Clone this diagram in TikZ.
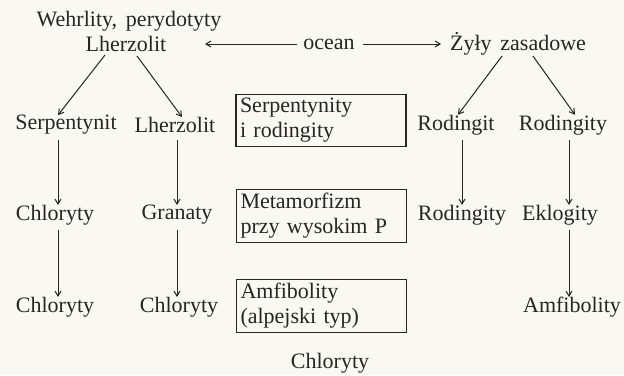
\documentclass[tikz,border=0pt]{standalone}
\usepackage{fontspec}
\setmainfont[WordSpace=1.6]{Liberation Serif}
\usetikzlibrary{arrows.meta}
\definecolor{paper}{RGB}{250,248,242}
\definecolor{ink}{RGB}{40,38,36}
\begin{document}
\begin{tikzpicture}[x=1pt,y=-1pt,
  every node/.style={font=\fontsize{22}{25}\selectfont, inner sep=0pt, text=ink},
  lbl/.style={anchor=center},
  boxed/.style={draw=ink, line width=1.3pt, minimum width=170pt, minimum height=51pt, text width=162pt, align=left, inner sep=4pt},
  arr/.style={draw=ink, line width=1pt, -{Straight Barb[length=5pt,width=6pt]}}]
\useasboundingbox[fill=paper] (0,0) rectangle (624,375);
% top
\node[lbl] (weh) at (129,21) {Wehrlity, perydotyty};
\node[lbl] (lh) at (126,44) {Lherzolit};
\node[lbl] (oc) at (329,44) {ocean};
\node[lbl] (zy) at (518,44) {Żyły zasadowe};
% row 2
\node[lbl] (s1) at (66,125) {Serpentynit};
\node[lbl] (l2) at (175,125) {Lherzolit};
\node[boxed] (b1) at (321,120.5) {Serpentynity\\i rodingity};
\node[lbl] (r1) at (456,125) {Rodingit};
\node[lbl] (r2) at (563,125) {Rodingity};
% row 3
\node[lbl] (c1) at (55,215) {Chloryty};
\node[lbl] (g1) at (177,215) {Granaty};
\node[boxed] (b2) at (321.5,216) {Metamorfizm\\przy wysokim P};
\node[lbl] (r3) at (462,215) {Rodingity};
\node[lbl] (e1) at (560,215) {Eklogity};
% row 4
\node[lbl] (c2) at (55,307) {Chloryty};
\node[lbl] (c3) at (179,307) {Chloryty};
\node[boxed] (b3) at (321.5,306) {Amfibolity\\(alpejski typ)};
\node[lbl] (a1) at (572,307) {Amfibolity};
% bottom
\node[lbl] (c4) at (330,363) {Chloryty};
% connectors
\coordinate (ow) at (297,44);
\coordinate (oe) at (363,44);
\draw[arr] (ow) -- (lh.east -| 205,0);
\draw[arr] (oe) -- (zy.west -| 441,0);
\draw[arr] (105,55) -- (s1.north -| 58,0);
\draw[arr] (137,56) -- (l2.north -| 182,0);
\draw[arr] (502,56) -- (r1.north -| 458,0);
\draw[arr] (533,56) -- (r2.north -| 575,0);
\draw[arr] (58,140) -- (58,205);
\draw[arr] (177,140) -- (177,205);
\draw[arr] (462,140) -- (462,205);
\draw[arr] (569,140) -- (569,205);
\draw[arr] (58,230) -- (58,297);
\draw[arr] (177,230) -- (177,297);
\draw[arr] (569,230) -- (569,297);
\end{tikzpicture}
\end{document}
